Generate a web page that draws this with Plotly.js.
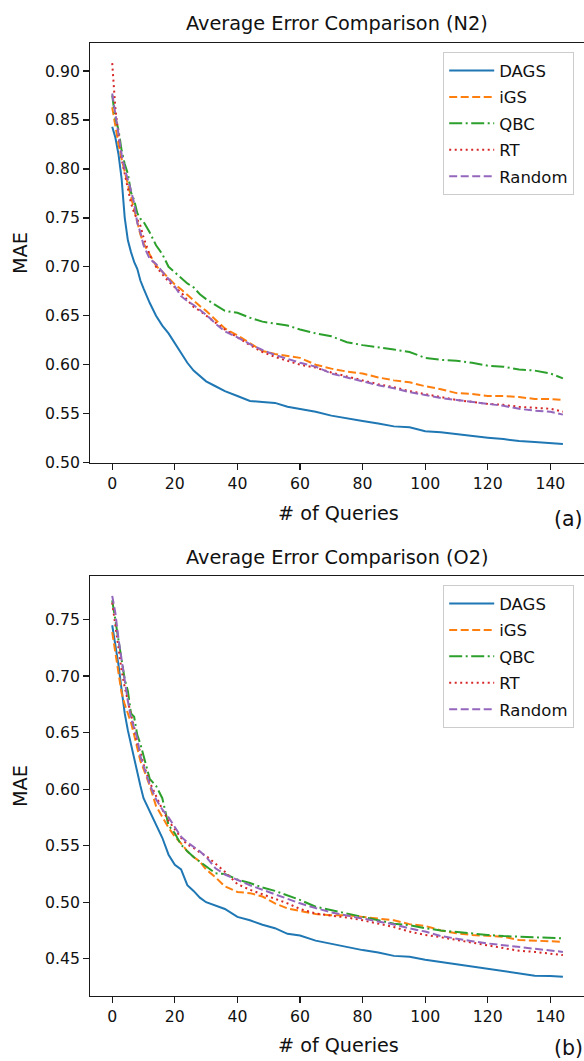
<!DOCTYPE html>
<html>
<head>
<meta charset="utf-8">
<script src="https://cdn.plot.ly/plotly-3.0.1.min.js"></script>
<style>
html,body{margin:0;padding:0;overflow:hidden;background:#fff;}
#chart{width:587px;height:1061px;}
</style>
</head>
<body>
<div id="chart"></div>
<script>
// x values (# of queries)
const queries = [0,1,2,3,4,5,6,7,8,9,10,
  12,14,16,18,20,22,24,26,28,30,
  33,36,40,44,48,52,56,60,
  65,70,75,80,85,90,95,100,105,110,115,120,125,130,135,140,144];

const seriesNames = ["DAGS","iGS","QBC","RT","Random"];

// (a) N2
const n2_DAGS = [.843,.832,.815,.79,.75,.727,.715,.705,.698,.686,.678,
  .663,.650,.640,.632,.622,.612,.602,.594,.588,.583,
  .578,.573,.568,.563,.562,.561,.557,.555,
  .552,.548,.545,.5425,.540,.537,.536,.532,.531,.529,.527,.5255,.524,.522,.521,.520,.519];
const n2_iGS = [.863,.843,.825,.81,.797,.785,.771,.760,.745,.733,.724,
  .712,.701,.695,.688,.682,.677,.671,.666,.660,.655,
  .646,.637,.630,.622,.614,.611,.609,.607,
  .600,.596,.593,.591,.587,.584,.582,.578,.575,.571,.570,.568,.568,.567,.565,.565,.564];
const n2_QBC = [.875,.852,.84,.819,.805,.795,.776,.768,.755,.749,.746,
  .735,.722,.713,.700,.694,.688,.683,.679,.672,.667,
  .661,.655,.653,.648,.644,.642,.640,.636,
  .632,.629,.623,.620,.618,.6155,.613,.607,.605,.604,.602,.599,.598,.595,.594,.591,.586];
const n2_RT = [.908,.862,.835,.810,.795,.779,.765,.755,.748,.742,.730,
  .712,.700,.692,.685,.679,.674,.666,.659,.655,.650,
  .643,.636,.628,.620,.613,.608,.604,.600,
  .597,.592,.588,.584,.580,.577,.573,.570,.567,.564,.562,.560,.559,.557,.556,.555,.552];
const n2_Random = [.877,.855,.835,.815,.800,.790,.778,.765,.745,.735,.722,
  .708,.703,.695,.688,.680,.670,.665,.661,.656,.651,
  .642,.634,.628,.621,.615,.610,.606,.602,
  .598,.591,.587,.583,.579,.576,.572,.569,.566,.564,.562,.560,.558,.555,.553,.552,.549];

// (b) O2
const o2_DAGS = [.745,.728,.71,.688,.667,.652,.639,.628,.616,.603,.592,
  .580,.568,.557,.542,.533,.529,.515,.510,.504,.500,
  .497,.494,.487,.484,.480,.477,.472,.4705,
  .466,.463,.460,.4576,.4555,.4525,.4517,.449,.447,.445,.4425,.4405,.4385,.4365,.435,.4346,.434];
const o2_iGS = [.739,.72,.703,.685,.675,.667,.659,.648,.637,.625,.618,
  .603,.585,.575,.566,.558,.552,.545,.540,.536,.529,
  .522,.514,.509,.508,.505,.499,.4945,.492,
  .4895,.4885,.4885,.487,.4855,.484,.4806,.479,.475,.4725,.471,.470,.4694,.4665,.466,.4659,.465];
const o2_QBC = [.767,.75,.732,.714,.697,.687,.667,.664,.648,.640,.630,
  .609,.603,.592,.568,.561,.551,.545,.540,.536,.532,
  .5255,.525,.520,.517,.513,.510,.506,.502,
  .496,.493,.490,.487,.484,.481,.4797,.477,.475,.4735,.4725,.471,.470,.4694,.469,.468,.468];
const o2_RT = [.765,.745,.725,.705,.690,.677,.666,.655,.640,.633,.622,
  .606,.594,.582,.572,.564,.557,.551,.548,.544,.541,
  .534,.527,.516,.511,.507,.503,.499,.494,
  .490,.488,.4865,.484,.481,.478,.474,.471,.469,.4665,.464,.462,.459,.457,.456,.4546,.4532];
const o2_Random = [.771,.756,.733,.714,.695,.678,.663,.655,.645,.629,.620,
  .604,.591,.582,.575,.566,.558,.553,.549,.545,.540,
  .530,.5245,.5195,.515,.511,.507,.503,.499,
  .4948,.491,.4882,.4856,.483,.4803,.4768,.474,.470,.4675,.4655,.4635,.462,.4605,.459,.4576,.456];

const xTicks = [0,20,40,60,80,100,120,140];
const yTicksA = [0.50,0.55,0.60,0.65,0.70,0.75,0.80,0.85,0.90];
const yTicksB = [0.45,0.50,0.55,0.60,0.65,0.70,0.75];

const colors = ["#1f77b4","#ff7f0e","#2ca02c","#d62728","#9467bd"];
const dashes = ["solid","8px,3.5px","13px,3.5px,2px,3.5px","2px,3.5px","8px,3.5px"];

const FONT = "DejaVu Sans, sans-serif";
const dataA = [n2_DAGS,n2_iGS,n2_QBC,n2_RT,n2_Random];
const dataB = [o2_DAGS,o2_iGS,o2_QBC,o2_RT,o2_Random];

const traces = [];
dataA.forEach((ys,i)=>traces.push({
  x: queries, y: ys, type:"scatter", mode:"lines", name: seriesNames[i], legendgroup:"a"+i,
  line:{color:colors[i], width:2, dash:dashes[i]}, xaxis:"x", yaxis:"y", legend:"legend"
}));
dataB.forEach((ys,i)=>traces.push({
  x: queries, y: ys, type:"scatter", mode:"lines", name: seriesNames[i], legendgroup:"b"+i,
  line:{color:colors[i], width:2, dash:dashes[i]}, xaxis:"x2", yaxis:"y2", legend:"legend2"
}));

const T = 43, B = 65, H = 1061;
const PH = H - T - B;
const py = p => (H - B - p) / PH;      // pixel y -> paper
const px = p => (p - 90) / 497;        // pixel x -> paper

const axisCommon = {
  showline:true, linecolor:"#1a1a1a", linewidth:1.3, mirror:true,
  ticks:"outside", ticklen:5.5, tickwidth:1.3, tickcolor:"#1a1a1a",
  showgrid:false, zeroline:false,
  tickfont:{family:FONT, size:15.7, color:"#111"}
};
const legendCommon = {
  x: px(443), xanchor:"left", yanchor:"top",
  bgcolor:"rgba(255,255,255,0.9)", bordercolor:"#cccccc", borderwidth:1.2,
  font:{family:FONT, size:16.5, color:"#111"},
  itemwidth:45, tracegroupgap:2, traceorder:"grouped"
};
const labelFont = {family:FONT, size:19.2, color:"#111"};

const layout = {
  width:587, height:H,
  margin:{l:90, r:0, t:T, b:B},
  paper_bgcolor:"#fff", plot_bgcolor:"#fff",
  showlegend:true,
  xaxis: Object.assign({}, axisCommon, {domain:[0,1], range:[-7.1,151.7], tickvals:xTicks, anchor:"y"}),
  yaxis: Object.assign({}, axisCommon, {domain:[py(463),1], range:[0.4996,0.9286], tickvals:yTicksA, tickformat:".2f", anchor:"x"}),
  xaxis2: Object.assign({}, axisCommon, {domain:[0,1], range:[-7.1,151.7], tickvals:xTicks, anchor:"y2"}),
  yaxis2: Object.assign({}, axisCommon, {domain:[0,py(576)], range:[0.417,0.7886], tickvals:yTicksB, tickformat:".2f", anchor:"x2"}),
  legend: Object.assign({}, legendCommon, {y: py(52)}),
  legend2: Object.assign({}, legendCommon, {y: py(585)}),
  annotations: [
    {text:"Average Error Comparison (N2)", xref:"paper", yref:"paper", x:px(337), y:py(24), showarrow:false, xanchor:"center", yanchor:"middle", font:{family:FONT, size:19.3, color:"#111"}},
    {text:"Average Error Comparison (O2)", xref:"paper", yref:"paper", x:px(337), y:py(557), showarrow:false, xanchor:"center", yanchor:"middle", font:{family:FONT, size:19.3, color:"#111"}},
    {text:"# of Queries", xref:"paper", yref:"paper", x:px(338), y:py(513), showarrow:false, xanchor:"center", yanchor:"middle", font:labelFont},
    {text:"# of Queries", xref:"paper", yref:"paper", x:px(338), y:py(1045), showarrow:false, xanchor:"center", yanchor:"middle", font:labelFont},
    {text:"(a)", xref:"paper", yref:"paper", x:px(568), y:py(519), showarrow:false, xanchor:"center", yanchor:"middle", font:{family:FONT, size:20.5, color:"#111"}},
    {text:"(b)", xref:"paper", yref:"paper", x:px(568), y:py(1048), showarrow:false, xanchor:"center", yanchor:"middle", font:{family:FONT, size:20.5, color:"#111"}},
    {text:"MAE", xref:"paper", yref:"paper", x:px(20), y:py(253), showarrow:false, textangle:-90, xanchor:"center", yanchor:"middle", font:labelFont},
    {text:"MAE", xref:"paper", yref:"paper", x:px(20), y:py(786), showarrow:false, textangle:-90, xanchor:"center", yanchor:"middle", font:labelFont}
  ]
};

Plotly.newPlot("chart", traces, layout, {staticPlot:true, displayModeBar:false});
</script>
</body>
</html>
